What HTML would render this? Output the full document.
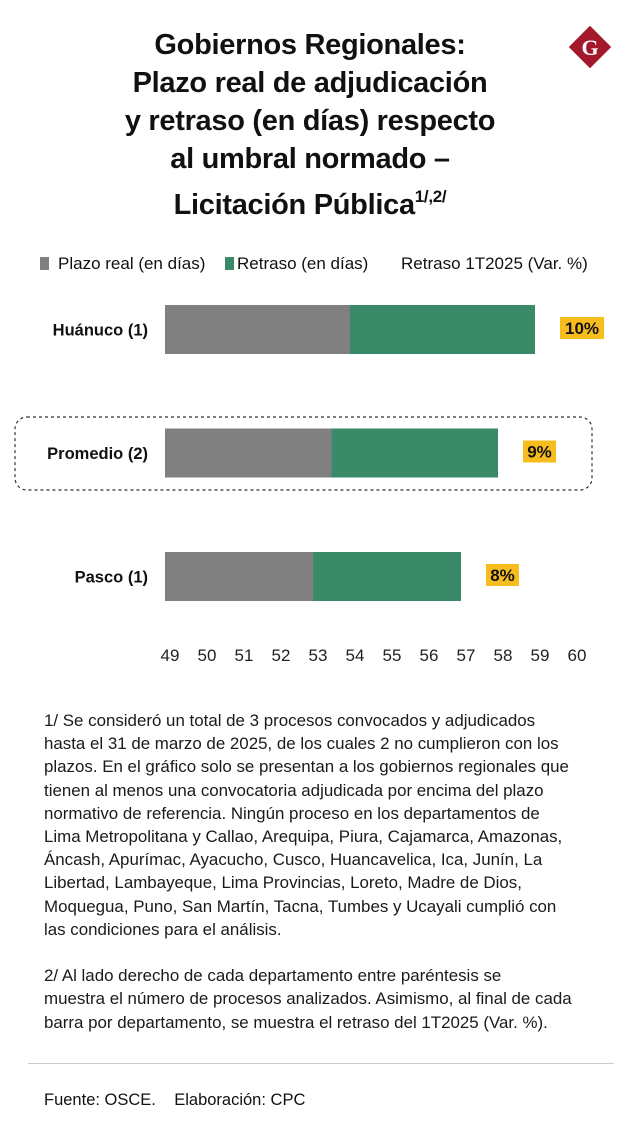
<!DOCTYPE html>
<html><head><meta charset="utf-8">
<style>
html,body{margin:0;padding:0;background:#fff;}
body{width:620px;height:1137px;position:relative;overflow:hidden;font-family:"Liberation Sans",sans-serif;color:#111;}
.title{position:absolute;left:0;width:620px;top:26px;text-align:center;font-weight:bold;font-size:29px;line-height:38px;letter-spacing:-0.3px;}
.title sup{font-size:17px;line-height:0;vertical-align:12px;}
.legend{position:absolute;top:254px;font-size:17px;white-space:nowrap;}
.notes{position:absolute;left:44px;top:709px;font-size:16.9px;line-height:23.2px;white-space:nowrap;color:#1a1a1a;}
.src{position:absolute;left:44px;top:1091px;font-size:16.5px;}
</style></head><body>
<div class="title">Gobiernos Regionales:<br>Plazo real de adjudicación<br>y retraso (en días) respecto<br>al umbral normado –<div style="margin-top:8px">Licitación Pública<sup>1/,2/</sup></div></div>
<svg style="position:absolute;left:565px;top:22px" width="50" height="50">
<rect x="10" y="10" width="30" height="30" fill="#a3192b" transform="rotate(45 25 25)"/>
<text x="25" y="33" text-anchor="middle" font-family="Liberation Serif,serif" font-weight="bold" font-size="22" fill="#fff">G</text>
</svg>
<div class="legend" style="left:40px"><span style="display:inline-block;width:9px;height:13px;background:#808080;margin-right:9px;vertical-align:-1px"></span>Plazo real (en días)</div>
<div class="legend" style="left:225px"><span style="display:inline-block;width:9px;height:13px;background:#3a8a6a;margin-right:3px;vertical-align:-1px"></span>Retraso (en días)</div>
<div class="legend" style="left:401px">Retraso 1T2025 (Var. %)</div>
<svg id="chart" style="position:absolute;left:0;top:0" width="620" height="700"></svg>
<div class="notes">1/ Se consideró un total de 3 procesos convocados y adjudicados<br>hasta el 31 de marzo de 2025, de los cuales 2 no cumplieron con los<br>plazos. En el gráfico solo se presentan a los gobiernos regionales que<br>tienen al menos una convocatoria adjudicada por encima del plazo<br>normativo de referencia. Ningún proceso en los departamentos de<br>Lima Metropolitana y Callao, Arequipa, Piura, Cajamarca, Amazonas,<br>Áncash, Apurímac, Ayacucho, Cusco, Huancavelica, Ica, Junín, La<br>Libertad, Lambayeque, Lima Provincias, Loreto, Madre de Dios,<br>Moquegua, Puno, San Martín, Tacna, Tumbes y Ucayali cumplió con<br>las condiciones para el análisis.<br><br>2/ Al lado derecho de cada departamento entre paréntesis se<br>muestra el número de procesos analizados. Asimismo, al final de cada<br>barra por departamento, se muestra el retraso del 1T2025 (Var. %).</div>
<div style="position:absolute;left:28px;width:586px;top:1063px;height:1px;background:#ccc"></div>
<div class="src">Fuente: OSCE.&nbsp;&nbsp;&nbsp;&nbsp;Elaboración: CPC</div>
<script>
const categories=["Huánuco (1)","Promedio (2)","Pasco (1)"];
const plazoEnd=[54,53.5,53];
const totalEnd=[59,58,57];
const varLabels=["10%","9%","8%"];
const ticks=[49,50,51,52,53,54,55,56,57,58,59,60];
const svg=document.getElementById('chart');
const NS='http://www.w3.org/2000/svg';
function x(v){return 165+(v-49)*37;}
function yTop(i){return 305+i*123.5;}
function mk(t,a){const e=document.createElementNS(NS,t);for(const k in a)e.setAttribute(k,a[k]);svg.appendChild(e);return e;}
const box=mk('rect',{x:15,y:417,width:577,height:73,rx:12,fill:'none',stroke:'#333','stroke-width':1.2,'stroke-dasharray':'3,3'});


categories.forEach((c,i)=>{
  const y=yTop(i),h=49;
  const g=mk('rect',{x:x(49),y:y,width:x(plazoEnd[i])-x(49),height:h,fill:'#808080'});
  
  
  const r=mk('rect',{x:x(plazoEnd[i]),y:y,width:x(totalEnd[i])-x(plazoEnd[i]),height:h,fill:'#3a8a6a'});
  
  
  const t=mk('text',{x:148,y:y+h/2+6,'text-anchor':'end','font-size':16.5,'font-weight':'bold',fill:'#111'});
  t.textContent=c;
  
  
  const bx=x(totalEnd[i])+25, bw=varLabels[i].length*11+11;
  const b=mk('rect',{x:bx,y:y+12,width:bw,height:22,fill:'#f7bd1e'});
  
  
  const bt=mk('text',{x:bx+bw/2,y:y+29,'text-anchor':'middle','font-size':17,'font-weight':'bold',fill:'#111'});
  bt.textContent=varLabels[i];
  
  
});
ticks.forEach(v=>{
  const t=mk('text',{x:x(v)+5,y:661,'text-anchor':'middle','font-size':17,fill:'#222'});
  t.textContent=v;
  
  
});
</script>
</body></html>
